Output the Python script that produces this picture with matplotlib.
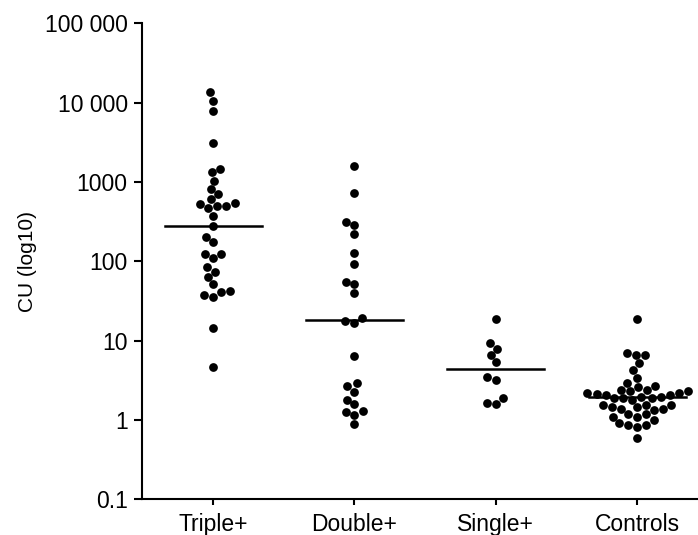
import numpy as np
import pandas as pd
import matplotlib
matplotlib.use("Agg")
import matplotlib.pyplot as plt
import seaborn as sns
from matplotlib.ticker import FixedLocator, FixedFormatter, NullLocator

plt.rcParams['font.family'] = ['Liberation Sans', 'DejaVu Sans']

groups = ["Triple+", "Double+", "Single+", "Controls"]

triple = [13490, 10570, 7910, 3120, 1442, 1322, 1036, 820, 703, 604, 542, 522, 501, 501,
          465, 375, 278, 204, 176, 124, 124, 111, 85, 74, 62.7, 51.1, 42.5, 40.5, 37.5, 35.1,
          14.5, 4.67]
double = [1586, 731, 309, 286, 220, 129, 92, 55, 51.5, 39.4, 19.4, 17.8, 16.8, 6.43,
          2.89, 2.67, 2.26, 1.81, 1.57, 1.29, 1.26, 1.17, 0.885]
single = [18.5, 9.22, 7.81, 6.56, 5.31, 3.44, 3.15, 1.87, 1.58, 1.66]
controls = [18.7, 6.56, 6.56, 6.9, 5.16, 4.25, 3.40, 2.67, 2.94, 2.42, 2.57,
            2.31, 2.20, 2.12, 2.05, 1.96, 1.87, 1.81, 1.87, 1.87, 1.96, 2.05, 2.16, 2.31, 2.38,
            1.54, 1.46, 1.37, 1.33, 1.37, 1.46, 1.54, 1.54,
            1.18, 1.09, 1.01, 0.877, 0.903, 0.82, 0.877, 1.09, 1.18, 0.60]
medians = [278, 18.1, 4.33, 1.96]

ytick_vals = [0.1, 1, 10, 100, 1000, 10000, 100000]
ytick_labels = ["0.1", "1", "10", "100", "1000", "10 000", "100 000"]

df = pd.DataFrame({
    "group": ["Triple+"] * len(triple) + ["Double+"] * len(double)
             + ["Single+"] * len(single) + ["Controls"] * len(controls),
    "cu": triple + double + single + controls,
})

fig = plt.figure(figsize=(6.98, 5.35), dpi=100)
ax = fig.add_axes([0.2039, 0.0667, 0.7961, 0.8897])
ax.set_yscale('log')
ax.set_ylim(0.1, 100000)
ax.set_xlim(-0.5, 3.43)

sns.swarmplot(data=df, x="group", y="cu", order=groups, color="black",
              size=6.3, ax=ax, linewidth=0)
ax.set_xlim(-0.5, 3.43)

# median bars
for i, m in enumerate(medians):
    ax.plot([i - 0.343, i + 0.343], [m, m], color="black", lw=1.8, zorder=3)

ax.yaxis.set_major_locator(FixedLocator(ytick_vals))
ax.yaxis.set_major_formatter(FixedFormatter(ytick_labels))
ax.yaxis.set_minor_locator(NullLocator())
ax.set_xticks(range(len(groups)))
ax.set_xticklabels(groups)

for s in ["top", "right"]:
    ax.spines[s].set_visible(False)
for s in ["left", "bottom"]:
    ax.spines[s].set_linewidth(1.5)
ax.tick_params(axis='y', length=5.5, width=1.5, labelsize=16.5, pad=5)
ax.tick_params(axis='x', length=4, width=1.5, labelsize=16.5, pad=6)
ax.set_xlabel("")
ax.set_ylabel("CU (log10)", fontsize=15, labelpad=6)

fig.savefig("out.png", dpi=100)
